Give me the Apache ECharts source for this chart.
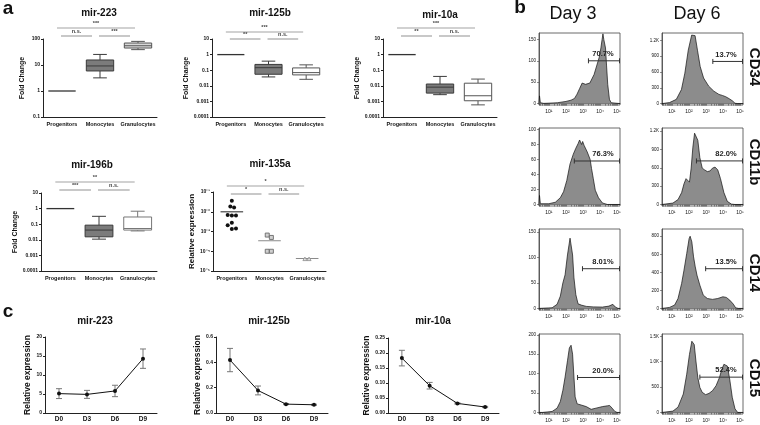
<!DOCTYPE html>
<html><head><meta charset="utf-8">
<script src="https://cdn.jsdelivr.net/npm/echarts@6/dist/echarts.min.js"></script>
<style>html,body{margin:0;padding:0;background:#fff}#c{width:760px;height:425px}</style>
</head><body><div id="c"></div>
<script>
const FONT = '"Liberation Sans", Arial, Helvetica, sans-serif';

// ---------- Panel a : box plots (fold change) ----------
const groupCats = ['Progenitors', 'Monocytes', 'Granulocytes'];
// [min, Q1, median, Q3, max]
const mir223Box  = [[1,1,1,1,1], [3.2,5.9,9.2,15.6,25.5], [39,45,55,70,81]];
const mir125bBox = [[1,1,1,1,1], [0.037,0.055,0.145,0.235,0.38], [0.026,0.05,0.07,0.14,0.22]];
const mir10aBox  = [[1,1,1,1,1], [0.0027,0.0034,0.0082,0.013,0.04], [0.0006,0.0011,0.0023,0.0147,0.027]];
const mir196bBox = [[1,1,1,1,1], [0.011,0.0155,0.042,0.087,0.32], [0.037,0.042,0.053,0.29,0.68]];
// significance bars: [fromGroup, toGroup, tier(1=upper,2=lower)], labels separately
const mir223Sig  = [[0,2,1],[0,1,2],[1,2,2]];  const mir223SigText  = ['***','n.s.','***'];
const mir125bSig = [[0,2,1],[0,1,2],[1,2,2]];  const mir125bSigText = ['***','**','n.s.'];
const mir10aSig  = [[0,2,1],[0,1,2],[1,2,2]];  const mir10aSigText  = ['***','**','n.s.'];
const mir196bSig = [[0,2,1],[0,1,2],[1,2,2]];  const mir196bSigText = ['**','***','n.s.'];
const mir135aSig = [[0,2,1],[0,1,2],[1,2,2]];  const mir135aSigText = ['*','*','n.s.'];

// mir-135a dot plot (relative expression)
const mir135aProg = [0.036,0.0186,0.0165,0.0069,0.0065,0.0065,0.0028,0.0021,0.00135,0.0014];
const mir135aProgJitter = [0,-0.04,0.06,-0.11,0,0.11,0,-0.11,0,0.11];
const mir135aMono = [0.00066,0.0005,0.0001,0.0001];
const mir135aMonoJitter = [-0.06,0.05,-0.06,0.05];
const mir135aGran = [0.00004,0.00004];
const mir135aGranJitter = [-0.06,0.05];
const mir135aMean = [0.0099,0.00034,0.000043];

// ---------- Panel c : time course ----------
const dayCats = ['D0','D3','D6','D9'];
const c223Mean  = [5.1,4.9,5.8,14.3];     const c223Err  = [1.3,1.05,1.5,2.55];
const c125bMean = [0.418,0.178,0.07,0.065]; const c125bErr = [0.092,0.035,0.004,0.004];
const c10aMean  = [0.183,0.091,0.032,0.02]; const c10aErr  = [0.026,0.011,0.002,0.002];
const c223Ticks  = [0,5,10,15,20];
const c125bTicks = [0,0.2,0.4,0.6];
const c10aTicks  = [0,0.05,0.1,0.15,0.2,0.25];

// ---------- Panel b : flow cytometry histograms [log10 intensity, count] ----------
const histXTicks = [1,2,3,4,5];
const hD3CD34 = [[0.42,0],[0.45,18],[0.5,2],[0.7,0.5],[1.0,1],[1.5,2],[2.0,5],[2.3,8],[2.5,12],[2.65,22],[2.8,35],[2.95,48],[3.05,50],[3.15,45],[3.25,43],[3.4,48],[3.5,52],[3.65,68],[3.8,88],[3.95,108],[4.05,130],[4.12,150],[4.17,163],[4.22,150],[4.27,152],[4.32,130],[4.38,90],[4.45,45],[4.55,10],[4.65,2],[4.75,0],[5.17,0]];
const hD6CD34 = [[0.42,0],[0.86,19],[1.26,80],[1.56,267],[1.76,578],[1.96,1014],[2.16,1300],[2.26,1330],[2.36,1290],[2.5,1014],[2.66,703],[2.86,485],[3.16,330],[3.46,236],[3.76,174],[3.96,155],[4.16,130],[4.36,93],[4.56,50],[4.7,6],[4.86,0],[5.17,0]];
const hD3CD11b = [[0.42,0],[0.45,12],[0.5,1],[1.0,1],[1.38,3],[1.67,9],[1.86,17],[2.05,32],[2.24,54],[2.43,67],[2.58,75],[2.71,81],[2.8,86],[2.85,88],[2.92,80],[2.98,84],[3.06,79],[3.15,77],[3.25,70],[3.35,71],[3.42,60],[3.5,48],[3.6,35],[3.72,19],[3.91,9],[4.14,2],[4.43,0],[5.17,0]];
const hD6CD11b = [[0.42,0],[1.06,23],[1.36,80],[1.57,194],[1.71,337],[1.83,422],[1.93,394],[2.03,365],[2.13,594],[2.23,936],[2.33,1165],[2.41,1176],[2.52,1050],[2.64,765],[2.78,594],[2.92,565],[3.08,537],[3.24,548],[3.38,594],[3.53,611],[3.69,565],[3.85,422],[4.05,194],[4.25,51],[4.49,6],[4.7,0],[5.17,0]];
const hD3CD14 = [[0.42,0],[1.0,1],[1.19,1.3],[1.48,8],[1.67,24],[1.82,50],[1.95,66],[2.09,105],[2.24,138],[2.3,141],[2.39,105],[2.47,60],[2.58,27],[2.71,9],[2.9,6.5],[3.19,4],[3.6,3],[4.14,2.6],[4.52,4.5],[4.75,8],[4.9,2.6],[5.06,0],[5.17,0]];
const hD6CD14 = [[0.42,0],[0.86,11],[1.16,37],[1.36,110],[1.57,276],[1.71,424],[1.87,608],[2.01,774],[2.07,800],[2.17,737],[2.27,571],[2.37,461],[2.47,369],[2.64,258],[2.84,147],[3.08,110],[3.38,100],[3.69,110],[3.99,129],[4.19,122],[4.39,92],[4.6,48],[4.74,7],[4.9,0],[5.17,0]];
const hD3CD15 = [[0.42,0],[0.62,0],[1.19,2.5],[1.48,11],[1.67,28],[1.82,57],[1.95,91],[2.09,133],[2.2,166],[2.3,173],[2.39,150],[2.47,91],[2.54,40],[2.66,22],[2.9,19],[3.19,15],[3.48,8],[3.76,11],[4.14,15],[4.43,17],[4.56,18],[4.71,11],[4.87,2.5],[5.0,0],[5.17,0]];
const hD6CD15 = [[0.42,0],[1.06,26],[1.36,104],[1.67,363],[1.87,753],[2.03,1142],[2.17,1402],[2.23,1434],[2.31,1337],[2.41,1012],[2.52,688],[2.64,493],[2.78,396],[2.98,350],[3.18,376],[3.38,428],[3.59,526],[3.79,688],[3.93,850],[4.05,948],[4.15,980],[4.25,915],[4.39,655],[4.54,298],[4.7,71],[4.86,0],[5.17,0]];
const yTicksD3CD34 = [0,50,100,150];        const yMaxD3CD34 = 165;
const yTicksD6CD34 = [0,300,600,900,1200];  const yMaxD6CD34 = 1340;
const yTicksD3CD11b = [0,20,40,60,80,100];  const yMaxD3CD11b = 102;
const yTicksD6CD11b = [0,300,600,900,1200]; const yMaxD6CD11b = 1250;
const yTicksD3CD14 = [0,50,100,150];        const yMaxD3CD14 = 156;
const yTicksD6CD14 = [0,200,400,600,800];   const yMaxD6CD14 = 880;
const yTicksD3CD15 = [0,50,100,150,200];    const yMaxD3CD15 = 202;
const yTicksD6CD15 = [0,500,1000,1500];     const yMaxD6CD15 = 1545;
// gates: [start (log10), level (count)] and percentages
const gateD3CD34 = [3.32,100];  const pctD3CD34 = '70.7%';
const gateD6CD34 = [3.4,800];   const pctD6CD34 = '13.7%';
const gateD3CD11b = [2.49,58];  const pctD3CD11b = '76.3%';
const gateD6CD11b = [2.44,712]; const pctD6CD11b = '82.0%';
const gateD3CD14 = [2.97,78];   const pctD3CD14 = '8.01%';
const gateD6CD14 = [2.98,440];  const pctD6CD14 = '13.5%';
const gateD3CD15 = [2.68,90];   const pctD3CD15 = '20.0%';
const gateD6CD15 = [2.64,695];  const pctD6CD15 = '52.4%';
const HX_MIN = 0.42, HX_MAX = 5.17;

// ================= build option =================
const grid = [], xAxis = [], yAxis = [], series = [], graphic = [];
const AX = '#222';
const sup = {'1':'\u00b9','2':'\u00b2','3':'\u00b3','4':'\u2074','5':'\u2075','-':'\u207b'};
const toSup = s => String(s).split('').map(ch => sup[ch]).join('');

function txt(text, x, y, size, weight, extra) {
  graphic.push(Object.assign({type:'text', x, y, silent:true,
    style:{text, fontSize:size, fontWeight:weight, fontFamily:FONT, fill:'#111', align:'center', verticalAlign:'middle'}}, extra || {}));
}

function sigSeries(gi, o) {
  series.push({type:'custom', xAxisIndex:gi, yAxisIndex:gi, data:o.sig, encode:{x:0, y:2}, z:5, silent:true,
    renderItem:(p, api) => {
      const a = api.value(0), b = api.value(1), tier = api.value(2);
      const label = o.sigText[p.dataIndex];
      const top = api.coord([0, o.max])[1];
      const y = top - o.sigOff[tier - 1];
      const x1 = api.coord([a, o.max])[0] + (tier === 1 ? -5 : -1);
      const x2 = api.coord([b, o.max])[0] + (tier === 1 ? -3 : -8);
      return {type:'group', children:[
        {type:'line', shape:{x1, y1:y, x2, y2:y}, style:{stroke:'#a3a3a3', lineWidth:1.2}},
        {type:'text', x:(x1 + x2) / 2, y:y - 1.2, style:{text:label, align:'center', verticalAlign:'bottom', fontSize:5.5, fontWeight:'bold', fill:'#444', fontFamily:FONT}}
      ]};
    }});
}

function logPanel(o) {
  const gi = grid.length;
  grid.push({left:o.left, top:o.top, width:o.width, height:o.height});
  xAxis.push({type:'category', gridIndex:gi, data:groupCats, boundaryGap:true,
    axisLine:{lineStyle:{color:AX, width:1}},
    axisTick:{alignWithLabel:true, length:2, lineStyle:{color:AX}},
    axisLabel:{fontSize:5.5, fontWeight:'bold', color:'#111', margin:4, fontFamily:FONT, interval:0}});
  yAxis.push({type:'log', logBase:10, gridIndex:gi, min:o.min, max:o.max,
    name:o.yName, nameLocation:'middle', nameGap:o.nameGap,
    nameTextStyle:{fontSize:o.nameSize, fontWeight:'bold', color:'#111', fontFamily:FONT},
    axisLine:{show:true, lineStyle:{color:AX, width:1}},
    axisTick:{show:true, length:2, lineStyle:{color:AX}},
    splitLine:{show:false},
    axisLabel:{fontSize:5, fontWeight:'bold', color:'#111', margin:3, fontFamily:FONT, formatter:o.fmt}});
  txt(o.title, o.titleX, o.titleY, 10, 'bold');
  sigSeries(gi, o);
  return gi;
}

const fmtDec = v => { const e = Math.round(Math.log10(v)); return e >= 0 ? String(Math.round(v)) : v.toFixed(-e); };
const fmtPow = v => '10' + toSup(Math.round(Math.log10(v)));

function boxPanel(o) {
  const gi = logPanel(Object.assign({yName:'Fold Change', nameSize:7, fmt:fmtDec}, o));
  series.push({type:'custom', xAxisIndex:gi, yAxisIndex:gi, z:3, silent:true,
    data:o.box.map((b, i) => [i].concat(b)), encode:{x:0, y:[1,2,3,4,5]},
    renderItem:(p, api) => {
      const i = api.value(0);
      const v = [1,2,3,4,5].map(k => api.value(k));
      const X = api.coord([i, v[2]])[0];
      const band = api.coord([1, v[2]])[0] - api.coord([0, v[2]])[0];
      const Y = val => api.coord([i, val])[1];
      const hw = band * 0.36, cw = hw * 0.5;
      const stroke = o.strokes[i], fill = o.fills[i];
      const ls = {stroke, lineWidth:1};
      if (v[0] === v[4]) return {type:'line', shape:{x1:X - hw, y1:Y(v[2]), x2:X + hw, y2:Y(v[2])}, style:{stroke, lineWidth:1.3}};
      return {type:'group', children:[
        {type:'line', shape:{x1:X, y1:Y(v[4]), x2:X, y2:Y(v[3])}, style:ls},
        {type:'line', shape:{x1:X, y1:Y(v[1]), x2:X, y2:Y(v[0])}, style:ls},
        {type:'line', shape:{x1:X - cw, y1:Y(v[4]), x2:X + cw, y2:Y(v[4])}, style:ls},
        {type:'line', shape:{x1:X - cw, y1:Y(v[0]), x2:X + cw, y2:Y(v[0])}, style:ls},
        {type:'rect', shape:{x:X - hw, y:Y(v[3]), width:2 * hw, height:Y(v[1]) - Y(v[3])}, style:{fill, stroke, lineWidth:1}},
        {type:'line', shape:{x1:X - hw, y1:Y(v[2]), x2:X + hw, y2:Y(v[2])}, style:{stroke, lineWidth:1}}
      ]};
    }});
}

const strokesA = ['#333', '#3a3a3a', '#555'];
boxPanel({left:43, top:39, width:114, height:78, min:0.1, max:100, nameGap:17, box:mir223Box,
  sig:mir223Sig, sigText:mir223SigText, sigOff:[11,3], title:'mir-223', titleX:99, titleY:13,
  fills:['#333','#7b7b7b','#d8d8d8'], strokes:strokesA});
boxPanel({left:212, top:39, width:113, height:78, min:0.0001, max:10, nameGap:16, box:mir125bBox,
  sig:mir125bSig, sigText:mir125bSigText, sigOff:[7,0], title:'mir-125b', titleX:270, titleY:13,
  fills:['#333','#7b7b7b','#ffffff'], strokes:strokesA});
boxPanel({left:383, top:39, width:114, height:78, min:0.0001, max:10, nameGap:14, box:mir10aBox,
  sig:mir10aSig, sigText:mir10aSigText, sigOff:[11,3], title:'mir-10a', titleX:440, titleY:15,
  fills:['#333','#7b7b7b','#ffffff'], strokes:strokesA});
boxPanel({left:41, top:193, width:116, height:78, min:0.0001, max:10, nameGap:16, box:mir196bBox,
  sig:mir196bSig, sigText:mir196bSigText, sigOff:[11,3], title:'mir-196b', titleX:92, titleY:165,
  fills:['#333','#7b7b7b','#ffffff'], strokes:['#333','#3a3a3a','#777']});

// mir-135a dot plot
(function(){
  const o = {left:213, top:192, width:113, height:79, min:0.00001, max:0.1, nameGap:16, yName:'Relative expression', nameSize:8,
    fmt:fmtPow, sig:mir135aSig, sigText:mir135aSigText, sigOff:[6,-2], title:'mir-135a', titleX:270, titleY:164};
  const gi = logPanel(o);
  const pts = [];
  mir135aProg.forEach((v, k) => pts.push([0, mir135aProgJitter[k], v]));
  mir135aMono.forEach((v, k) => pts.push([1, mir135aMonoJitter[k], v]));
  mir135aGran.forEach((v, k) => pts.push([2, mir135aGranJitter[k], v]));
  series.push({type:'custom', xAxisIndex:gi, yAxisIndex:gi, z:4, silent:true, data:pts, encode:{x:0, y:2},
    renderItem:(p, api) => {
      const c = api.value(0), j = api.value(1), v = api.value(2);
      const band = api.coord([1, v])[0] - api.coord([0, v])[0];
      const pt = api.coord([c, v]);
      const x = pt[0] + j * band, y = pt[1];
      if (c === 0) return {type:'circle', shape:{cx:x, cy:y, r:2}, style:{fill:'#111'}};
      if (c === 1) return {type:'rect', shape:{x:x - 2, y:y - 2, width:4, height:4}, style:{fill:'#d0d0d0', stroke:'#6a6a6a', lineWidth:0.9}};
      return {type:'polygon', shape:{points:[[x, y - 2], [x + 2, y + 1.5], [x - 2, y + 1.5]]}, style:{fill:'#e6e6e6', stroke:'#8a8a8a', lineWidth:0.8}};
    }});
  series.push({type:'custom', xAxisIndex:gi, yAxisIndex:gi, z:3, silent:true, data:mir135aMean.map((v, i) => [i, v]),
    renderItem:(p, api) => {
      const c = api.value(0), v = api.value(1);
      const band = api.coord([1, v])[0] - api.coord([0, v])[0];
      const pt = api.coord([c, v]);
      return {type:'line', shape:{x1:pt[0] - 0.3 * band, y1:pt[1], x2:pt[0] + 0.3 * band, y2:pt[1]}, style:{stroke:c === 0 ? '#222' : '#8a8a8a', lineWidth:1}};
    }});
})();

// ---------- panel c ----------
function linePanel(o) {
  const gi = grid.length;
  grid.push({left:o.left, top:o.top, width:o.width, height:o.height});
  xAxis.push({type:'category', gridIndex:gi, data:dayCats, boundaryGap:true,
    axisLine:{lineStyle:{color:AX, width:1}},
    axisTick:{alignWithLabel:true, length:2, lineStyle:{color:AX}},
    axisLabel:{fontSize:6.5, fontWeight:'bold', color:'#111', margin:3, fontFamily:FONT}});
  yAxis.push({type:'value', gridIndex:gi, min:o.ticks[0], max:o.ticks[o.ticks.length - 1], interval:o.ticks[1] - o.ticks[0],
    name:'Relative expression', nameLocation:'middle', nameGap:o.nameGap,
    nameTextStyle:{fontSize:8.5, fontWeight:'bold', color:'#111', fontFamily:FONT},
    axisLine:{show:true, lineStyle:{color:AX, width:1}},
    axisTick:{show:true, length:2, lineStyle:{color:AX}},
    splitLine:{show:false},
    axisLabel:{fontSize:5, fontWeight:'bold', color:'#111', margin:3, fontFamily:FONT, formatter:v => v.toFixed(o.dec)}});
  series.push({type:'custom', xAxisIndex:gi, yAxisIndex:gi, z:2, silent:true,
    data:o.mean.map((m, i) => [i, m, o.err[i]]), encode:{x:0, y:1},
    renderItem:(p, api) => {
      const i = api.value(0), m = api.value(1), e = api.value(2);
      const t = api.coord([i, m + e]), b = api.coord([i, m - e]);
      const st = {stroke:'#777', lineWidth:1};
      return {type:'group', children:[
        {type:'line', shape:{x1:t[0], y1:t[1], x2:b[0], y2:b[1]}, style:st},
        {type:'line', shape:{x1:t[0] - 3, y1:t[1], x2:t[0] + 3, y2:t[1]}, style:st},
        {type:'line', shape:{x1:b[0] - 3, y1:b[1], x2:b[0] + 3, y2:b[1]}, style:st}
      ]};
    }});
  series.push({type:'line', xAxisIndex:gi, yAxisIndex:gi, data:o.mean, z:3, silent:true,
    symbol:'circle', symbolSize:4, showSymbol:true,
    lineStyle:{color:'#111', width:1}, itemStyle:{color:'#111'}});
  txt(o.title, o.titleX, o.titleY, 10, 'bold');
}
linePanel({left:45, top:337, width:112, height:76, ticks:c223Ticks, dec:0, nameGap:12, mean:c223Mean, err:c223Err, title:'mir-223', titleX:95, titleY:321});
linePanel({left:216, top:337, width:112, height:76, ticks:c125bTicks, dec:1, nameGap:13, mean:c125bMean, err:c125bErr, title:'mir-125b', titleX:269, titleY:321});
linePanel({left:388, top:338, width:111, height:75, ticks:c10aTicks, dec:2, nameGap:16, mean:c10aMean, err:c10aErr, title:'mir-10a', titleX:433, titleY:321});

// ---------- panel b ----------
const minorTicks = [];
for (let d = 0; d <= 5; d++) for (let m = 1; m <= 9; m++) {
  const v = d + Math.log10(m);
  if (v > HX_MIN && v < HX_MAX) minorTicks.push(v);
}
const fmtK = v => v >= 1000 ? (v / 1000).toFixed(1) + 'K' : String(v);
function histPanel(left, top, height, data, ticks, ymax, gate, pct) {
  const gi = grid.length;
  grid.push({left, top, width:81, height, show:true, borderColor:'#444', borderWidth:0.8, backgroundColor:'#fff'});
  xAxis.push({type:'value', gridIndex:gi, min:HX_MIN, max:HX_MAX,
    axisLine:{show:true, lineStyle:{color:'#444', width:0.8}},
    axisTick:{show:true, length:2, customValues:minorTicks, lineStyle:{color:'#444', width:0.6}},
    splitLine:{show:false},
    axisLabel:{customValues:histXTicks, fontSize:5, color:'#111', margin:4, fontFamily:FONT, formatter:v => '10' + toSup(Math.round(v))}});
  yAxis.push({type:'value', gridIndex:gi, min:-0.02 * ymax, max:ymax,
    axisLine:{show:true, lineStyle:{color:'#444', width:0.8}},
    axisTick:{show:true, length:2, customValues:ticks, lineStyle:{color:'#444', width:0.6}},
    splitLine:{show:false},
    axisLabel:{customValues:ticks, fontSize:4.5, color:'#111', margin:3, fontFamily:FONT, formatter:fmtK}});
  series.push({type:'line', xAxisIndex:gi, yAxisIndex:gi, data, showSymbol:false, symbol:'none', silent:true, z:2,
    lineStyle:{color:'#111', width:0.7}, areaStyle:{color:'#8c8c8c', opacity:1}});
  series.push({type:'custom', xAxisIndex:gi, yAxisIndex:gi, data:[gate], encode:{x:0, y:1}, z:4, silent:true,
    renderItem:(p, api) => {
      const a = api.coord([api.value(0), api.value(1)]);
      const b = api.coord([HX_MAX, api.value(1)]);
      const st = {stroke:'#333', lineWidth:1};
      return {type:'group', children:[
        {type:'line', shape:{x1:a[0], y1:a[1], x2:b[0], y2:b[1]}, style:st},
        {type:'line', shape:{x1:a[0], y1:a[1] - 2.5, x2:a[0], y2:a[1] + 2.5}, style:st},
        {type:'line', shape:{x1:b[0] - 0.5, y1:b[1] - 2.5, x2:b[0] - 0.5, y2:b[1] + 2.5}, style:st},
        {type:'text', x:b[0] - 17, y:a[1] - 3, style:{text:pct, align:'center', verticalAlign:'bottom', fontSize:7.5, fontWeight:'bold', fill:'#222', fontFamily:FONT}}
      ]};
    }});
}
const D3L = 539, D6L = 662;
histPanel(D3L, 33, 72, hD3CD34, yTicksD3CD34, yMaxD3CD34, gateD3CD34, pctD3CD34);
histPanel(D6L, 33, 72, hD6CD34, yTicksD6CD34, yMaxD6CD34, gateD6CD34, pctD6CD34);
histPanel(D3L, 128, 78, hD3CD11b, yTicksD3CD11b, yMaxD3CD11b, gateD3CD11b, pctD3CD11b);
histPanel(D6L, 128, 78, hD6CD11b, yTicksD6CD11b, yMaxD6CD11b, gateD6CD11b, pctD6CD11b);
histPanel(D3L, 229, 81, hD3CD14, yTicksD3CD14, yMaxD3CD14, gateD3CD14, pctD3CD14);
histPanel(D6L, 229, 81, hD6CD14, yTicksD6CD14, yMaxD6CD14, gateD6CD14, pctD6CD14);
histPanel(D3L, 334, 80, hD3CD15, yTicksD3CD15, yMaxD3CD15, gateD3CD15, pctD3CD15);
histPanel(D6L, 334, 80, hD6CD15, yTicksD6CD15, yMaxD6CD15, gateD6CD15, pctD6CD15);

// ---------- free texts ----------
txt('a', 8, 9, 19, 'bold');
txt('b', 520, 8, 19, 'bold');
txt('c', 8, 312, 19, 'bold');
txt('Day 3', 573, 14, 18, 'normal');
txt('Day 6', 697, 14, 18, 'normal');
const cdLabels = ['CD34', 'CD11b', 'CD14', 'CD15'];
const cdY = [67, 162, 273, 378];
cdLabels.forEach((t, i) => txt(t, 754, cdY[i], 15, 'bold', {rotation:-Math.PI / 2}));

const chart = echarts.init(document.getElementById('c'), null, {renderer:'canvas'});
chart.setOption({animation:false, backgroundColor:'#fff', textStyle:{fontFamily:FONT}, grid, xAxis, yAxis, series, graphic});
</script></body></html>
